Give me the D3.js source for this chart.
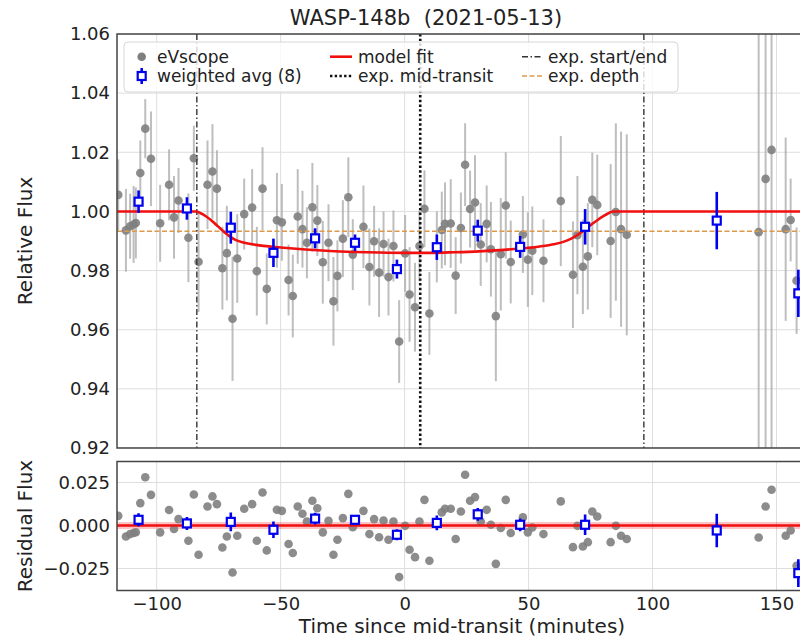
<!DOCTYPE html>
<html>
<head>
<meta charset="utf-8">
<script src="https://cdnjs.cloudflare.com/ajax/libs/d3/7.8.5/d3.min.js"></script>
<style>
  body { margin: 0; background: #fff; }
  text { font-family: "DejaVu Sans", sans-serif; fill: #222; }
</style>
</head>
<body>
<div id="chart"></div>
<script>
// eVscope points: time (min), relative flux, flux error, residual
var times = [-115.5, -112.4, -110.7, -109.3, -108.4, -106.6, -104.6, -102.3, -98.6, -95.0,
  -93.0, -91.2, -87.2, -85.0, -83.1, -79.5, -77.5, -75.7, -73.5, -71.7,
  -69.4, -67.5, -64.7, -61.5, -59.6, -57.3, -55.6, -51.5, -49.5, -46.8,
  -45.1, -43.1, -41.2, -39.4, -37.2, -35.2, -33.0, -30.7, -28.7, -27.1,
  -24.9, -22.7, -20.9, -16.6, -14.2, -12.3, -10.3, -8.5, -6.5, -4.5,
  -2.2, 0.2, 2.0, 4.2, 6.0, 8.0, 10.0, 13.0, 15.0, 16.3,
  18.6, 20.6, 22.7, 24.4, 26.4, 28.4, 30.7, 33.1, 34.8, 36.8,
  38.8, 40.8, 42.8, 47.7, 49.7, 51.5, 56.0, 63.0, 67.9, 69.7,
  71.9, 73.9, 75.7, 77.7, 83.1, 85.2, 87.3, 89.6, 142.8, 145.6,
  148.0, 153.7, 155.7, 158.1];
var flux = [1.0056, 0.9936, 0.9950, 0.9956, 0.9961, 1.0130, 1.0280, 1.0178, 0.9960, 1.0090,
  0.9980, 1.0037, 0.9911, 1.0180, 0.9830, 1.0090, 1.0135, 1.0077, 0.9808, 0.9859,
  0.9637, 0.9841, 0.9991, 1.0013, 0.9798, 1.0077, 0.9738, 0.9970, 0.9963, 0.9768,
  0.9714, 0.9983, 0.9940, 0.9894, 1.0014, 0.9969, 0.9828, 0.9894, 0.9696, 0.9782,
  0.9908, 1.0048, 0.9854, 0.9948, 0.9812, 0.9899, 0.9793, 0.9890, 0.9778, 0.9883,
  0.9560, 0.9858, 0.9719, 0.9676, 0.9883, 1.0009, 0.9655, 0.9880, 0.9937, 0.9958,
  0.9959, 0.9783, 0.9944, 1.0158, 1.0008, 1.0030, 0.9888, 0.9958, 0.9872, 0.9646,
  0.9855, 1.0020, 0.9829, 0.9922, 0.9837, 0.9867, 0.9833, 1.0035, 0.9786, 0.9920,
  0.9813, 0.9848, 1.0039, 1.0022, 0.9900, 0.9998, 0.9940, 0.9921, 0.9930, 1.0110,
  1.0208, 0.9940, 0.9971, 0.9766];
var fluxErr = [0.012, 0.014, 0.011, 0.013, 0.012, 0.011, 0.010, 0.016, 0.013, 0.012,
  0.014, 0.011, 0.015, 0.011, 0.017, 0.015, 0.016, 0.013, 0.014, 0.016,
  0.021, 0.015, 0.012, 0.013, 0.015, 0.014, 0.012, 0.016, 0.013, 0.012,
  0.014, 0.016, 0.013, 0.012, 0.015, 0.012, 0.014, 0.013, 0.015, 0.012,
  0.013, 0.0135, 0.012, 0.014, 0.013, 0.012, 0.015, 0.011, 0.013, 0.012,
  0.014, 0.013, 0.016, 0.015, 0.012, 0.013, 0.014, 0.012, 0.013, 0.014,
  0.015, 0.013, 0.012, 0.014, 0.013, 0.016, 0.014, 0.013, 0.016, 0.022,
  0.019, 0.018, 0.014, 0.013, 0.016, 0.015, 0.014, 0.022, 0.018, 0.020,
  0.016, 0.018, 0.016, 0.017, 0.026, 0.030, 0.033, 0.034, 0.12, 0.12,
  0.12, 0.031, 0.014, 0.018];
var resid = [0.0056, -0.0064, -0.0050, -0.0044, -0.0039, 0.0130, 0.0280, 0.0178, -0.0040, 0.0090,
  -0.0020, 0.0037, -0.0089, 0.0180, -0.0170, 0.0110, 0.0169, 0.0124, -0.0128, -0.0064,
  -0.0273, -0.0060, 0.0097, 0.0124, -0.0089, 0.0192, -0.0145, 0.0091, 0.0085, -0.0108,
  -0.0160, 0.0110, 0.0068, 0.0023, 0.0144, 0.0100, -0.0040, 0.0027, -0.0170, -0.0083,
  0.0043, 0.0184, -0.0010, 0.0085, -0.0050, 0.0037, -0.0068, 0.0029, -0.0083, 0.0023,
  -0.0300, -0.0002, -0.0141, -0.0184, 0.0023, 0.0149, -0.0205, 0.0020, 0.0076, 0.0097,
  0.0097, -0.0079, 0.0081, 0.0295, 0.0144, 0.0165, 0.0023, 0.0091, 0.0004, -0.0223,
  -0.0015, 0.0149, -0.0044, 0.0047, -0.0040, -0.0012, -0.0050, 0.0140, -0.0126, -0.0002,
  -0.0122, -0.0097, 0.0081, 0.0052, -0.0097, -0.0002, -0.0060, -0.0079, -0.0070, 0.0110,
  0.0208, -0.0060, -0.0029, -0.0234];

// weighted averages (8 points per bin)
var binTimes = [-107.3, -87.8, -70.1, -52.9, -36.1, -20.0, -3.1, 13.0, 29.5, 46.6, 72.8, 125.9, 158.8];
var binFlux = [1.0033, 1.0010, 0.9945, 0.9860, 0.9909, 0.9894, 0.9805, 0.9879, 0.9935, 0.9880, 0.9948, 0.9969, 0.9723];
var binErr = [0.0038, 0.0038, 0.0054, 0.0048, 0.0034, 0.0028, 0.0032, 0.0043, 0.0037, 0.0037, 0.0060, 0.0097, 0.0080];
var binResid = [0.0033, 0.0012, 0.0021, -0.0025, 0.0040, 0.0033, -0.0054, 0.0015, 0.0065, 0.0004, 0.0004, -0.0029, -0.0277];

// model fit curve
var modelTimes = [-116, -84, -82, -80, -78, -76, -74, -72, -70, -68, -65, -60, -50, -40, -30, -20, -10, 0,
  10, 20, 30, 40, 50, 56, 60, 64, 67, 70, 72, 74, 76, 78, 80, 82, 84, 165];
var modelFlux = [1.0, 1.0, 0.9993, 0.9983, 0.997, 0.9955, 0.994, 0.9925, 0.9912, 0.9903, 0.9895, 0.9887, 0.9878, 0.9871, 0.9866, 0.9863, 0.9861, 0.986,
  0.986, 0.9862, 0.9865, 0.987, 0.9877, 0.9883, 0.9889, 0.9897, 0.9907, 0.9922, 0.9934, 0.9947, 0.996, 0.9972, 0.9983, 0.9993, 1.0, 1.0];

// expected ephemeris
var expStart = -83.8;
var expMid = 6.3;
var expEnd = 96.5;
var expDepth = 0.9933;

var xTickValues = [-100, -50, 0, 50, 100, 150];
var yTickValues = [0.92, 0.94, 0.96, 0.98, 1.00, 1.02, 1.04, 1.06];
var resTickValues = [-0.025, 0, 0.025];

// layout
var svgWidth = 800;
var svgHeight = 639;
var left = 117, right = 808;
var topY0 = 34, topY1 = 448;
var botY0 = 461.5, botY1 = 590.5;

var svg = d3.select("#chart")
  .append("svg")
  .attr("width", svgWidth)
  .attr("height", svgHeight);

var xScale = d3.scaleLinear().domain([-116, 162.7]).range([left, right]);
var yScale = d3.scaleLinear().domain([0.92, 1.06]).range([topY1, topY0]);
var rScale = d3.scaleLinear().domain([-0.0378, 0.0372]).range([botY1, botY0]);

var pts = times.map(function(t, i) {
  return {t: t, f: flux[i], e: fluxErr[i], r: resid[i]};
});
var bins = binTimes.map(function(t, i) {
  return {t: t, f: binFlux[i], e: binErr[i], r: binResid[i]};
});

// clip paths
var defs = svg.append("defs");
defs.append("clipPath").attr("id", "clipTop")
  .append("rect").attr("x", left).attr("y", topY0).attr("width", right - left).attr("height", topY1 - topY0);
defs.append("clipPath").attr("id", "clipBot")
  .append("rect").attr("x", left).attr("y", botY0).attr("width", right - left).attr("height", botY1 - botY0);

function drawGrid(g, ys, yVals, y0, y1) {
  g.selectAll(".vg").data(xTickValues).enter().append("line")
    .attr("x1", d => xScale(d)).attr("x2", d => xScale(d))
    .attr("y1", y0).attr("y2", y1)
    .attr("stroke", "#dedede").attr("stroke-width", 1);
  g.selectAll(".hg").data(yVals).enter().append("line")
    .attr("x1", left).attr("x2", right)
    .attr("y1", d => ys(d)).attr("y2", d => ys(d))
    .attr("stroke", "#dedede").attr("stroke-width", 1);
}

//Top panel
var topG = svg.append("g").attr("clip-path", "url(#clipTop)");
drawGrid(topG, yScale, yTickValues, topY0, topY1);

topG.append("g").selectAll("line")
  .data(pts).enter().append("line")
  .attr("x1", d => xScale(d.t)).attr("x2", d => xScale(d.t))
  .attr("y1", d => yScale(d.f - d.e)).attr("y2", d => yScale(d.f + d.e))
  .attr("stroke", "#a8a8a8").attr("stroke-opacity", 0.75).attr("stroke-width", 2);

topG.append("g").selectAll("circle")
  .data(pts).enter().append("circle")
  .attr("cx", d => xScale(d.t)).attr("cy", d => yScale(d.f))
  .attr("r", 4.3)
  .attr("fill", "#7f7f7f").attr("fill-opacity", 0.9);

topG.append("line")
  .attr("x1", left).attr("x2", right)
  .attr("y1", yScale(expDepth)).attr("y2", yScale(expDepth))
  .attr("stroke", "#dc9a4c").attr("stroke-width", 1.5).attr("stroke-dasharray", "5,2.5");

[expStart, expEnd].forEach(function(t) {
  topG.append("line")
    .attr("x1", xScale(t)).attr("x2", xScale(t))
    .attr("y1", topY0).attr("y2", topY1)
    .attr("stroke", "#333").attr("stroke-width", 1.4).attr("stroke-dasharray", "6,2.5,1.5,2.5");
});
topG.append("line")
  .attr("x1", xScale(expMid)).attr("x2", xScale(expMid))
  .attr("y1", topY0).attr("y2", topY1)
  .attr("stroke", "#111").attr("stroke-width", 2.6).attr("stroke-dasharray", "2.4,2.3");

var modelLine = d3.line()
  .x((d, i) => xScale(modelTimes[i]))
  .y(d => yScale(d))
  .curve(d3.curveMonotoneX);
topG.append("path")
  .attr("d", modelLine(modelFlux))
  .attr("fill", "none").attr("stroke", "#f01010").attr("stroke-width", 2.6);

function drawBins(g, ys, key) {
  g.append("g").selectAll("line")
    .data(bins).enter().append("line")
    .attr("x1", d => xScale(d.t)).attr("x2", d => xScale(d.t))
    .attr("y1", d => ys(d[key] - d.e)).attr("y2", d => ys(d[key] + d.e))
    .attr("stroke", "#0000ee").attr("stroke-width", 2.6);
  g.append("g").selectAll("rect")
    .data(bins).enter().append("rect")
    .attr("x", d => xScale(d.t) - 4).attr("y", d => ys(d[key]) - 4)
    .attr("width", 8).attr("height", 8)
    .attr("fill", "white").attr("stroke", "#0000ee").attr("stroke-width", 2.2);
}
drawBins(topG, yScale, "f");

//Bottom panel
var botG = svg.append("g").attr("clip-path", "url(#clipBot)");
drawGrid(botG, rScale, resTickValues, botY0, botY1);

botG.append("line")
  .attr("x1", left).attr("x2", right)
  .attr("y1", rScale(0)).attr("y2", rScale(0))
  .attr("stroke", "#f01010").attr("stroke-opacity", 0.25).attr("stroke-width", 7);

botG.append("g").selectAll("circle")
  .data(pts).enter().append("circle")
  .attr("cx", d => xScale(d.t)).attr("cy", d => rScale(d.r))
  .attr("r", 4.3)
  .attr("fill", "#7f7f7f").attr("fill-opacity", 0.9);

botG.append("line")
  .attr("x1", left).attr("x2", right)
  .attr("y1", rScale(0)).attr("y2", rScale(0))
  .attr("stroke", "#f01010").attr("stroke-width", 2.6);

drawBins(botG, rScale, "r");

// spines
[[topY0, topY1], [botY0, botY1]].forEach(function(p) {
  svg.append("rect")
    .attr("x", left).attr("y", p[0])
    .attr("width", right - left).attr("height", p[1] - p[0])
    .attr("fill", "none").attr("stroke", "#444").attr("stroke-width", 1.5);
});

//Axes
var leftAxis = d3.axisLeft(yScale).tickValues(yTickValues).tickFormat(d3.format(".2f")).tickSize(0).tickPadding(7);
var resAxis = d3.axisLeft(rScale).tickValues(resTickValues).tickFormat(d3.format(".3f")).tickSize(0).tickPadding(7);
var bottomAxis = d3.axisBottom(xScale).tickValues(xTickValues).tickFormat(d3.format("d")).tickSize(0).tickPadding(6.5);

[svg.append("g").attr("transform", `translate(${left},0)`).call(leftAxis),
 svg.append("g").attr("transform", `translate(${left},0)`).call(resAxis),
 svg.append("g").attr("transform", `translate(0,${botY1})`).call(bottomAxis)].forEach(function(g) {
  g.select(".domain").remove();
  g.selectAll("text").style("font-family", "DejaVu Sans").style("font-size", "18px").attr("fill", "#222");
});

// Title and labels
svg.append("text")
  .attr("x", 426).attr("y", 25)
  .attr("text-anchor", "middle")
  .style("font-size", "21px")
  .style("white-space", "pre")
  .text("WASP-148b  (2021-05-13)");

svg.append("text")
  .attr("transform", `translate(32, ${(topY0 + topY1) / 2}) rotate(-90)`)
  .attr("text-anchor", "middle")
  .style("font-size", "20px")
  .text("Relative Flux");

svg.append("text")
  .attr("transform", `translate(32, ${(botY0 + botY1) / 2}) rotate(-90)`)
  .attr("text-anchor", "middle")
  .style("font-size", "20px")
  .text("Residual Flux");

svg.append("text")
  .attr("x", 462).attr("y", 633)
  .attr("text-anchor", "middle")
  .style("font-size", "20px")
  .text("Time since mid-transit (minutes)");

// Legend
var legend = svg.append("g");
legend.append("rect")
  .attr("x", 124).attr("y", 42).attr("width", 554).attr("height", 50)
  .attr("rx", 4)
  .attr("fill", "white").attr("fill-opacity", 0.8)
  .attr("stroke", "#d6d6d6");

var row1 = 56.7, row2 = 76;
legend.append("circle").attr("cx", 141.7).attr("cy", row1).attr("r", 4.3).attr("fill", "#7f7f7f");
legend.append("line").attr("x1", 141.7).attr("x2", 141.7).attr("y1", row2 - 8).attr("y2", row2 + 8)
  .attr("stroke", "#0000ee").attr("stroke-width", 2.6);
legend.append("rect").attr("x", 137.7).attr("y", row2 - 4).attr("width", 8).attr("height", 8)
  .attr("fill", "white").attr("stroke", "#0000ee").attr("stroke-width", 2.2);
legend.append("line").attr("x1", 330).attr("x2", 352).attr("y1", row1).attr("y2", row1)
  .attr("stroke", "#f01010").attr("stroke-width", 2.6);
legend.append("line").attr("x1", 330).attr("x2", 352).attr("y1", row2).attr("y2", row2)
  .attr("stroke", "#111").attr("stroke-width", 2.6).attr("stroke-dasharray", "2.4,2.3");
legend.append("line").attr("x1", 522).attr("x2", 542).attr("y1", row1).attr("y2", row1)
  .attr("stroke", "#333").attr("stroke-width", 1.4).attr("stroke-dasharray", "6,2.5,1.5,2.5");
legend.append("line").attr("x1", 522).attr("x2", 542).attr("y1", row2).attr("y2", row2)
  .attr("stroke", "#dc9a4c").attr("stroke-width", 1.5).attr("stroke-dasharray", "5,2.5");

var legendItems = [
  ["eVscope", 157, row1], ["weighted avg (8)", 157, row2],
  ["model fit", 358, row1], ["exp. mid-transit", 358, row2],
  ["exp. start/end", 548, row1], ["exp. depth", 548, row2]
];
legend.selectAll(".lt").data(legendItems).enter().append("text")
  .attr("x", d => d[1]).attr("y", d => d[2])
  .attr("dy", "0.35em")
  .style("font-size", "17px")
  .text(d => d[0]);
</script>
</body>
</html>
